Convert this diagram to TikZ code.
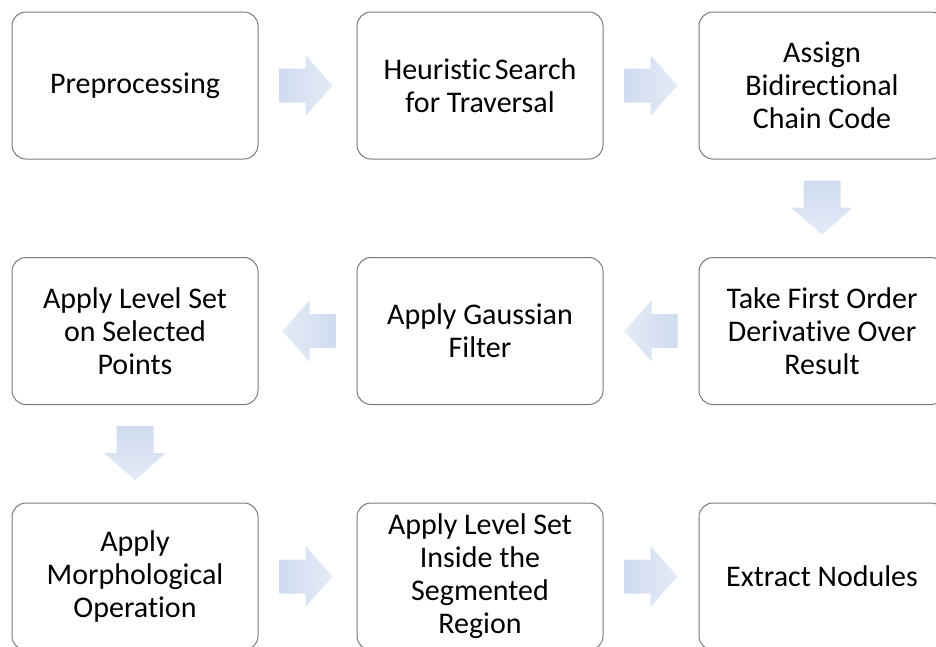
\documentclass[tikz,border=0pt]{standalone}
\usepackage{fontspec}
\setmainfont{Carlito}[Ligatures=NoCommon]
\usetikzlibrary{calc}
\definecolor{boxline}{HTML}{7A7A7A}
\definecolor{arrdark}{HTML}{CFDBEF}
\definecolor{arrlight}{HTML}{E4EBF7}
\tikzset{
  stepbox/.style={draw=boxline, line width=1pt, rounded corners=14pt, fill=white,
    minimum width=246pt, minimum height=147pt, align=center, inner sep=0pt,
    font=\fontsize{30}{33}\selectfont, text=black},
  rarrowfill/.style={left color=arrdark, right color=arrlight, draw=none},
  larrowfill/.style={left color=arrlight, right color=arrdark, draw=none},
  darrowfill/.style={top color=arrdark, bottom color=arrlight, draw=none}
}
\newcommand{\rblock}[2]{%
  \path[rarrowfill] let \p1=(#1.east) in
    (\x1+21pt,\y1+17pt) -- ++(26pt,0pt) -- ++(0pt,13.5pt) -- ++(27pt,-30.5pt)
    -- ++(-27pt,-30.5pt) -- ++(0pt,13.5pt) -- ++(-26pt,0pt) -- cycle;}
\newcommand{\lblock}[2]{%
  \path[larrowfill] let \p1=(#1.west) in
    (\x1-21pt,\y1+17pt) -- ++(-26pt,0pt) -- ++(0pt,13.5pt) -- ++(-27pt,-30.5pt)
    -- ++(27pt,-30.5pt) -- ++(0pt,13.5pt) -- ++(26pt,0pt) -- cycle;}
\newcommand{\dblock}[2]{%
  \path[darrowfill] let \p1=(#1.south) in
    (\x1-18.5pt,\y1-21pt) -- ++(0pt,-27pt) -- ++(-12.5pt,0pt) -- ++(31pt,-27pt)
    -- ++(31pt,27pt) -- ++(-12.5pt,0pt) -- ++(0pt,27pt) -- cycle;}
\begin{document}
\begin{tikzpicture}[x=1pt,y=1pt]
\useasboundingbox (0,0) rectangle (936,-646);
\clip (0,0) rectangle (936,-646);
\node[stepbox] (b1) at (135,-85.5) {Preprocessing};
\node[stepbox] (b2) at (480,-85.5) {Heuristic\hspace{0.12em}Search\\for Traversal};
\node[stepbox] (b3) at (822,-85.5) {Assign\\Bidirectional\\Chain Code};
\node[stepbox] (b4) at (822,-331) {Take First Order\\Derivative Over\\Result};
\node[stepbox] (b5) at (480,-331) {Apply Gaussian\\Filter};
\node[stepbox] (b6) at (135,-331) {Apply Level Set\\on Selected\\Points};
\node[stepbox] (b7) at (135,-576.5) {Apply\\Morphological\\Operation};
\node[stepbox] (b8) at (480,-576.5) {Apply Level Set\\Inside the\\Segmented\\Region};
\node[stepbox] (b9) at (822,-576.5) {Extract Nodules};
\rblock{b1}{b2}
\rblock{b2}{b3}
\dblock{b3}{b4}
\lblock{b4}{b5}
\lblock{b5}{b6}
\dblock{b6}{b7}
\rblock{b7}{b8}
\rblock{b8}{b9}
\end{tikzpicture}
\end{document}
